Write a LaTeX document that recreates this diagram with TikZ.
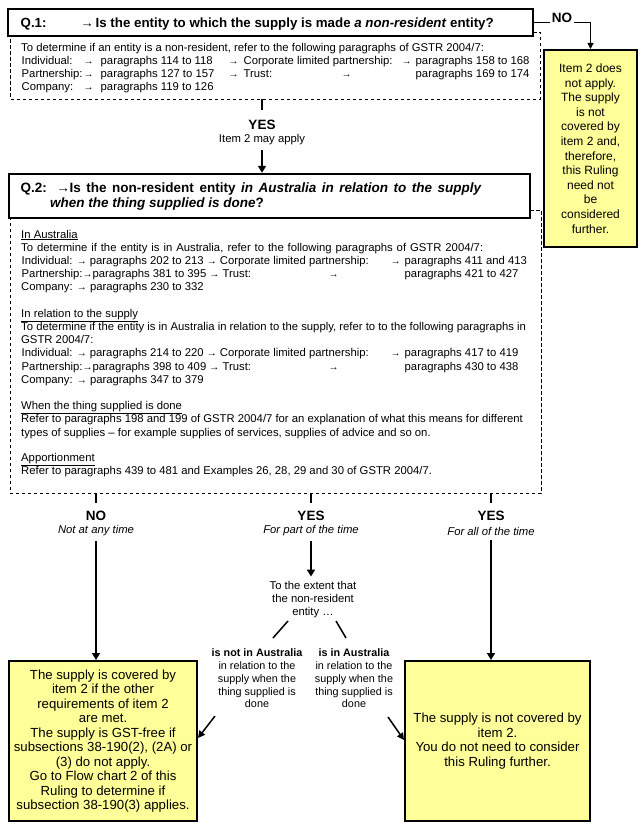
\documentclass[tikz,border=0pt]{standalone}
\usepackage{fontspec}
\usepackage{graphicx}
\setmainfont{Liberation Sans}
\usetikzlibrary{arrows.meta}
\definecolor{boxyellow}{HTML}{FFFF99}
\newcommand\putat[2]{\makebox[0pt][l]{\hspace*{#1pt}#2}}
\newcommand\sarr{{\fontsize{10}{10}\selectfont →}}
\begin{document}
\begin{tikzpicture}[x=1pt,y=-1pt,
  qbox/.style={draw, line width=2.4pt, inner sep=0pt},
  ybox/.style={draw, line width=2pt, fill=boxyellow, inner sep=2pt, align=center, font=\fontsize{12}{14.6}\selectfont},
  dbox/.style={line width=0.8pt, dash pattern=on 3.5pt off 2.5pt},
  body/.style={anchor=base west, inner sep=0pt, font=\fontsize{11.3}{13}\selectfont},
  qtxt/.style={anchor=base west, inner sep=0pt, font=\bfseries\fontsize{13.3}{14}\selectfont},
  lbl/.style={font=\bfseries\fontsize{13.5}{14}\selectfont, inner sep=0pt},
  sub/.style={font=\itshape\fontsize{11.3}{13}\selectfont, inner sep=0pt},
  mid/.style={font=\fontsize{11.3}{13}\selectfont, align=center, inner sep=0pt},
  mid2/.style={font=\fontsize{10.8}{12.75}\selectfont, align=center, inner sep=0pt},
  arr/.style={line width=2pt, -{Triangle[width=8pt,length=7pt]}},
  sarrow/.style={line width=1.5pt, -{Triangle[width=7pt,length=7pt]}},
  thinarr/.style={line width=1pt, -{Triangle[width=6pt,length=6pt]}},
  tick/.style={line width=2pt}
]
\fill[white] (0,0) rectangle (641,832);
\useasboundingbox (0,0) rectangle (641,832);

% ---------- Q1 ----------
\node[qbox, minimum width=525pt, minimum height=27pt] (q1) at (270.5,22.5) {};
\node[qtxt] (q1t) at (20,27.2) {\putat{0}{Q.1:}\putat{60}{→}\putat{75}{Is the entity to which the supply is made \textit{a non-resident} entity?}};
\draw[dbox] (533,32) -- (540,32) -- (540,99) -- (10,99) -- (10,36);
\node[body] (l11) at (21,51.1) {To determine if an entity is a non-resident, refer to the following paragraphs of GSTR 2004/7:};
\node[body] (l12) at (21,64.1) {\putat{0}{Individual:}\putat{62}{\sarr}\putat{79}{paragraphs 114 to 118}\putat{207}{\sarr}\putat{222}{Corporate limited partnership:}\putat{380}{\sarr}\putat{394}{paragraphs 158 to 168}};
\node[body] (l13) at (21,77.1) {\putat{0}{Partnership:}\putat{62}{\sarr}\putat{79}{paragraphs 127 to 157}\putat{207}{\sarr}\putat{222}{Trust:}\putat{320}{\sarr}\putat{394}{paragraphs 169 to 174}};
\node[body] (l14) at (21,90.1) {\putat{0}{Company:}\putat{62}{\sarr}\putat{79}{paragraphs 119 to 126}};

% ---------- NO (top right) ----------
\node[lbl, inner sep=2pt] (no1) at (562,18) {NO};
\node[ybox, minimum width=93pt, minimum height=197pt] (r1) at (590.5,148.5) {Item 2 does\\not apply.\\The supply\\is not\\covered by\\item 2 and,\\therefore,\\this Ruling\\need not\\be\\considered\\further.};
\draw[line width=1pt] (q1.east) -- (q1.east -| no1.west);
\draw[thinarr] (q1.east -| no1.east) -| (r1.north);

% ---------- YES 1 ----------
\coordinate (d1b) at (262,99);
\coordinate (d1e) at (262,110);
\node[lbl] (yes1) at (262,125) {YES};
\node[inner sep=0pt, font=\fontsize{11.3}{12}\selectfont] (may) at (262,140) {Item 2 may apply};
\coordinate (a1) at (262,150);
\draw[tick] (d1b) -- (d1e);

% ---------- Q2 ----------
\node[qbox, minimum width=521pt, minimum height=44pt] (q2) at (269.5,196) {};
\draw[arr] (a1) -- (a1 |- q2.north);
\node[qtxt, font=\bfseries\fontsize{13.5}{14}\selectfont] (q2a) at (20,192.8) {\putat{0}{Q.2:}\putat{36}{→}\putat{49}{\makebox[412pt][s]{Is the non-resident entity \textit{in Australia in relation to the supply}}}};
\node[qtxt, font=\bfseries\fontsize{13.5}{14}\selectfont] (q2b) at (50,207.8) {\textit{when the thing supplied is done}?};
\draw[dbox] (530,210) -- (541,210) -- (541,493) -- (10,493) -- (10,218);

\node[body] (m0) at (21,238.1) {\underline{In Australia}};
\node[body] (m1) at (21,251.3) {\makebox[462pt][s]{To determine if the entity is in Australia, refer to the following paragraphs of GSTR 2004/7:}};
\node[body] (m2) at (21,264.5) {\putat{0}{Individual: \sarr\ paragraphs 202 to 213 \sarr\ Corporate limited partnership:}\putat{369}{\sarr}\putat{383}{paragraphs 411 and 413}};
\node[body] (m3) at (21,277.7) {\putat{0}{Partnership:\sarr paragraphs 381 to 395 \sarr\ Trust:}\putat{307}{\sarr}\putat{383}{paragraphs 421 to 427}};
\node[body] (m4) at (21,290.9) {Company: \sarr\ paragraphs 230 to 332};
\node[body] (m6) at (21,317.3) {\underline{In relation to the supply}};
\node[body] (m7) at (21,330.5) {To determine if the entity is in Australia in relation to the supply, refer to to the following paragraphs in};
\node[body] (m8) at (21,343.7) {GSTR 2004/7:};
\node[body] (m9) at (21,356.9) {\putat{0}{Individual: \sarr\ paragraphs 214 to 220 \sarr\ Corporate limited partnership:}\putat{369}{\sarr}\putat{383}{paragraphs 417 to 419}};
\node[body] (m10) at (21,370.1) {\putat{0}{Partnership:\sarr paragraphs 398 to 409 \sarr\ Trust:}\putat{307}{\sarr}\putat{383}{paragraphs 430 to 438}};
\node[body] (m11) at (21,383.3) {Company: \sarr\ paragraphs 347 to 379};
\node[body] (m13) at (21,409.7) {\underline{When the thing supplied is done}};
\node[body] (m14) at (21,422.9) {Refer to paragraphs 198 and 199 of GSTR 2004/7 for an explanation of what this means for different};
\node[body] (m15) at (21,436.1) {types of supplies – for example supplies of services, supplies of advice and so on.};
\node[body] (m17) at (21,461.5) {\underline{Apportionment}};
\node[body] (m18) at (21,474.7) {Refer to paragraphs 439 to 481 and Examples 26, 28, 29 and 30 of GSTR 2004/7.};

% ---------- bottom branches ----------
\coordinate (b1) at (96,493);
\coordinate (b2) at (311,493);
\coordinate (b3) at (491,493);
\node[lbl] (no2) at (96,516) {NO};
\node[sub] (nat) at (96,531) {Not at any time};
\node[lbl] (yes2) at (311,516) {YES};
\node[sub] (fpt) at (311,531) {For part of the time};
\node[lbl] (yes3) at (491,516) {YES};
\node[sub] (fat) at (491,531) {For all of the time};
\draw[tick, shorten >=8pt] (b1) -- (b1 |- no2.north);
\draw[tick, shorten >=8pt] (b2) -- (b2 |- yes2.north);
\draw[tick, shorten >=8pt] (b3) -- (b3 |- yes3.north);

\node[ybox, minimum width=188pt, minimum height=160pt, font=\fontsize{13.2}{14.5}\selectfont] (lbox) at (103,741) {The supply is covered by\\item 2 if the other\\requirements of item 2\\are met.\\The supply is GST-free if\\subsections 38-190(2), (2A) or\\(3) do not apply.\\Go to Flow chart 2 of this\\Ruling to determine if\\subsection 38-190(3) applies.};
\node[ybox, minimum width=185pt, minimum height=160pt, font=\fontsize{13.2}{14.5}\selectfont] (rbox) at (497.5,741) {The supply is not covered by\\item 2.\\You do not need to consider\\this Ruling further.};

\draw[arr, shorten <=5pt] (nat.south -| b1) -- (b1 |- lbox.north);
\draw[arr, shorten <=5pt] (fat.south -| b3) -- (b3 |- rbox.north);

\node[mid] (ext) at (313,600) {To the extent that\\the non-resident\\entity …};
\draw[arr, shorten <=5pt, shorten >=5pt] (fpt.south -| b2) -- (b2 |- ext.north);

\coordinate (s1a) at (288,621);
\coordinate (s1b) at (273,638);
\coordinate (s2a) at (336,621);
\coordinate (s2b) at (346,638);
\draw[line width=1.5pt] (s1a) -- (s1b);
\draw[line width=1.5pt] (s2a) -- (s2b);

\node[mid2] (notin) at (257,678.5) {\textbf{is not in Australia}\\in relation to the\\supply when the\\thing supplied is\\done};
\node[mid2] (isin) at (354,678.5) {\textbf{is in Australia}\\in relation to the\\supply when the\\thing supplied is\\done};

\coordinate (la) at (215,716);
\coordinate (ra) at (388,717);
\draw[sarrow] (la) -- (lbox.east |- 0,738);
\draw[sarrow] (ra) -- (rbox.west |- 0,740);
\end{tikzpicture}
\end{document}
